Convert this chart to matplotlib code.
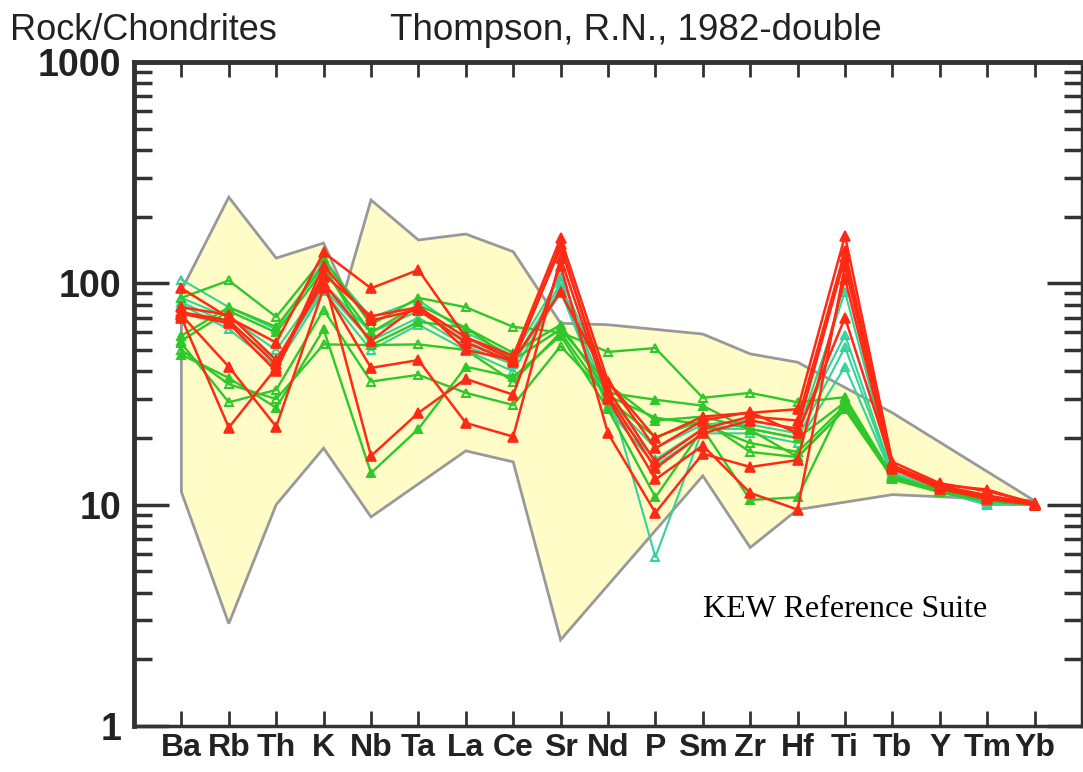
import matplotlib
matplotlib.use("Agg")
import matplotlib.pyplot as plt
from matplotlib.ticker import FixedLocator, NullFormatter, LogLocator

elements = ["Ba", "Rb", "Th", "K", "Nb", "Ta", "La", "Ce", "Sr", "Nd",
            "P", "Sm", "Zr", "Hf", "Ti", "Tb", "Y", "Tm", "Yb"]

# Envelope (KEW Reference Suite) boundaries: element positions and values
env_up_pos = [0, 1, 2, 3, 3.45, 4, 5, 6, 7, 8, 9, 11, 12, 13, 15, 18]
env_up_val = [93, 245, 130, 152, 93, 238, 157, 167, 139, 66, 65, 59, 48, 44, 26, 10.4]
env_lo_pos = [18, 15, 13, 12, 11, 8, 7, 6, 4, 3, 2, 1, 0]
env_lo_val = [10.4, 11.1, 9.5, 6.4, 13.5, 2.45, 15.6, 17.5, 8.8, 18, 10, 2.9, 11.4]

# Red samples
red_1 = [95, 70, 54, 138, 95, 115, 57, 47, 160, 36, 20, 25, 26, 27, 164, 15.6, 12.5, 11.5, 10.2]
red_2 = [74, 68, 43, 110, 71, 78, 57, 45, 145, 33, 15.6, 22, 25, 24, 140, 15, 12.2, 11, 10.1]
red_3 = [72, 42, 22.5, 95, 41.5, 45, 23.4, 20.3, 130, 30, 13, 18.5, 11.3, 9.5, 120, 14.8, 12, 10.8, 10]
red_4 = [70, 22.3, 41.5, 107, 16.6, 26, 37, 31.4, 120, 21, 9.2, 17, 14.8, 15.9, 105, 14.5, 11.8, 10.6, 10]
red_5 = [78, 72, 45, 100, 55, 80, 50, 45, 91, 36, 18, 24, 26.2, 21, 70, 15, 12.3, 11.7, 10.1]
red_6 = [73, 66, 40, 120, 68, 76, 54, 44, 150, 31, 14.6, 21, 24, 22, 131, 14.8, 12.1, 11, 10]

# Green samples
green_1 = [86, 103, 70.5, 130, 65, 86, 78, 63.6, 60, 49, 51, 30.4, 32, 29, 30.6, 13.5, 11.5, 10.6, 10.1]
green_2 = [58, 78, 63.6, 120, 52.6, 67, 63, 48.5, 65, 32, 29.8, 28, 21.8, 16.4, 27, 13.3, 11.6, 10.5, 10]
green_3 = [53.6, 29, 33, 76, 36, 38.6, 32, 28.2, 52, 31, 24.7, 23, 19, 17.3, 28, 13.2, 11.4, 10.4, 10]
green_4 = [47.6, 37.4, 27.4, 62, 13.9, 22, 42, 37.7, 58, 27, 10.8, 22, 10.5, 10.8, 30, 13, 11.4, 10.4, 10]
green_5 = [50, 35, 30, 53, 52.6, 53, 50, 36, 60, 30, 20.2, 24, 17.3, 16.4, 27, 13.2, 11.5, 10.4, 10]
green_6 = [55, 75, 60, 115, 60, 80, 63, 45, 62, 35, 24, 25, 22, 20, 29, 13.4, 11.5, 10.5, 10]

# Teal samples
teal_1 = [104, 78, 62, 125, 70, 84, 60, 47, 107, 33, 5.8, 22, 23, 21, 91.5, 14, 11.6, 10.2, 10]
teal_2 = [86, 70, 50, 100, 60, 75, 55, 44, 100, 30, 18, 23, 24, 22, 58.5, 13.8, 11.6, 10.1, 10]
teal_3 = [82, 66, 45, 95, 55, 70, 52, 43, 95, 28, 16, 22, 22, 20, 51.5, 13.6, 11.5, 10, 10]
teal_4 = [80, 62, 42, 92, 50, 65, 50, 40, 92, 27, 15, 21, 21, 19, 42, 13.5, 11.4, 10, 10]

yticks = [1, 10, 100, 1000]
ytick_labels = ["1", "10", "100", "1000"]

RED = "#FF2A14"
GREEN = "#2EC82A"
TEAL = "#33D29A"
FONT = ["Liberation Sans", "DejaVu Sans"]

fig = plt.figure(figsize=(10.83, 7.72), dpi=100)
ax = fig.add_axes([134/1083, 46/772, 948/1083, 664/772])
ax.set_yscale("log")
ax.set_ylim(1, 1000)
ax.set_xlim(-1, len(elements))

# envelope
poly_x = env_up_pos + env_lo_pos
poly_y = env_up_val + env_lo_val
ax.fill(poly_x, poly_y, facecolor="#FFFCC8", edgecolor="#999999", linewidth=2.0, zorder=1)

xs = list(range(len(elements)))
for s in [teal_1, teal_2, teal_3, teal_4]:
    ax.plot(xs, s, color=TEAL, lw=1.5, marker="^", ms=6, mfc="none", mew=1.4, zorder=2)
for i, s in enumerate([green_1, green_2, green_3, green_4, green_5, green_6]):
    ax.plot(xs, s, color=GREEN, lw=1.7, marker="^", ms=6,
            mfc=("none" if i % 2 == 0 else GREEN), mew=1.4, zorder=3)
for s in [red_1, red_2, red_3, red_4, red_5, red_6]:
    ax.plot(xs, s, color=RED, lw=1.8, marker="^", ms=6.5, mfc=RED, mew=1.2, zorder=4)

# axes styling
for side in ["left", "top"]:
    ax.spines[side].set_linewidth(3.5)
    ax.spines[side].set_color("#333333")
for side in ["bottom", "right"]:
    ax.spines[side].set_linewidth(2.5)
    ax.spines[side].set_color("#333333")

ax.set_xticks(xs)
ax.set_xticklabels(elements, family=FONT, fontsize=23, fontweight="bold", color="#222222")
ax.yaxis.set_major_locator(FixedLocator(yticks))
ax.set_yticklabels(ytick_labels, family=FONT, fontsize=27, fontweight="bold", color="#222222")
ax.yaxis.set_minor_locator(LogLocator(base=10, subs=range(2, 10)))
ax.yaxis.set_minor_formatter(NullFormatter())

ax.tick_params(axis="x", which="major", direction="in", length=11, width=2,
               color="#333333", top=True, bottom=True, pad=5)
ax.tick_params(axis="y", which="major", direction="in", length=25, width=2.5,
               color="#333333", left=True, right=True, pad=9)
ax.tick_params(axis="y", which="minor", direction="in", length=13, width=2.5,
               color="#333333", left=True, right=True)

fig.text(10/1083, 1 - 30/772, "Rock/Chondrites", family=FONT,
         fontsize=26, ha="left", va="center", color="#222222")
fig.text(390/1083, 1 - 30/772, "Thompson, R.N., 1982-double", family=FONT,
         fontsize=26.5, ha="left", va="center", color="#222222")

ax.text(0.75, 0.175, "KEW Reference Suite", transform=ax.transAxes,
        family=["Liberation Serif", "DejaVu Serif"], fontsize=23, ha="center", va="center",
        color="black", zorder=6)

fig.savefig("out.png", dpi=100)
